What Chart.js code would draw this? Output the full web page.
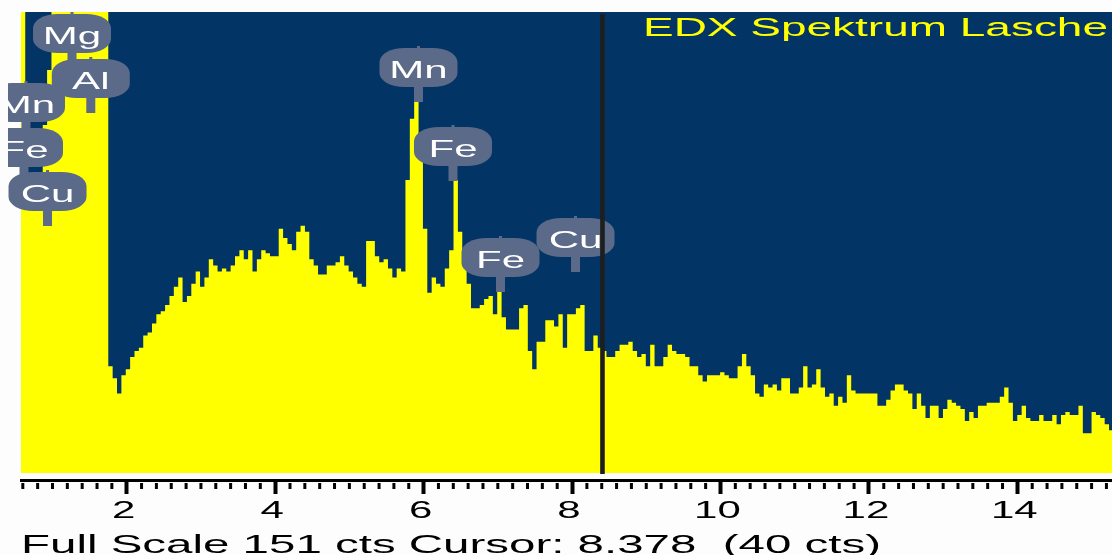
<!DOCTYPE html>
<html>
<head>
<meta charset="utf-8">
<title>EDX Spektrum Lasche</title>
<script src="https://cdn.jsdelivr.net/npm/chart.js@4.4.1/dist/chart.umd.min.js"></script>
<style>
    html, body { margin: 0; padding: 0; background: #fdfdfd; }
    #spectrum { display: block; }
</style>
</head>
<body>
<canvas id="spectrum" width="1112" height="555"></canvas>
<script>
// Spectrum channels: first channel left edge and channel width, in keV
const channelStart = 0.5151;
const channelWidth = 0.05888;

// Counts per channel (values above 151 run off the top of the screen)
const counts = [
    160, 170, 94, 92, 96, 98, 114, 132, 165, 190,
    260, 420, 520, 330, 240, 380, 700, 560, 290, 200,
    160, 35, 31, 26, 32, 34, 38, 40, 41, 45,
    46, 49, 52, 53, 55, 58, 61, 64, 56, 58,
    62, 66, 61, 64, 70, 68, 66, 67, 66, 68,
    71, 73, 70, 73, 66, 70, 73, 72, 71, 71,
    80, 77, 75, 73, 79, 81, 79, 70, 68, 65,
    65, 68, 68, 69, 71, 68, 66, 64, 62, 61,
    76, 76, 71, 69, 70, 67, 64, 67, 66, 96,
    116, 122, 104, 80, 59, 64, 62, 61, 67, 73,
    96, 79, 68, 62, 54, 54, 55, 57, 58, 52,
    60, 51, 47, 47, 47, 54, 55, 40, 34, 43,
    43, 50, 50, 48, 52, 41, 52, 52, 54, 55,
    40, 40, 45, 41, 40, 38, 38, 40, 42, 42,
    43, 40, 38, 39, 35, 42, 35, 35, 38, 42,
    40, 39, 39, 38, 35, 35, 32, 30, 32, 32,
    32, 33, 32, 31, 31, 35, 39, 35, 32, 26,
    25, 29, 28, 29, 27, 31, 31, 26, 26, 28,
    35, 28, 29, 34, 28, 25, 26, 22, 25, 23,
    32, 27, 26, 26, 26, 26, 26, 22, 22, 24,
    27, 29, 29, 27, 26, 21, 26, 22, 18, 22,
    22, 18, 21, 24, 23, 22, 21, 17, 20, 18,
    22, 22, 23, 23, 23, 25, 28, 23, 17, 19,
    22, 18, 17, 17, 19, 17, 17, 19, 16, 19,
    20, 19, 19, 22, 13, 13, 20, 19, 18, 16,
    14
];

// Axis range (keV) and full scale (cts)
const energyMin = 0.5757;
const energyMax = 15.275;
const fullScale = 151;

// Cursor
const cursorEnergy = 8.41;
const cursorText = 'Full Scale 151 cts Cursor: 8.378  (40 cts)';
const titleText = 'EDX Spektrum Lasche';

// Element markers
const peakNames = ['Mg', 'Al', 'Mn', 'Fe', 'Cu', 'Mn', 'Fe', 'Fe', 'Cu'];
const peakEnergies = [1.263, 1.516, 0.643, 0.616, 0.933, 5.931, 6.396, 7.036, 8.047];

// Marker layout (pixel top of each bubble, same order as above)
const bubbleTops = [14, 59, 83, 128, 172, 48, 127, 238, 218];

// Colours
const screenBlue = '#023465';
const spectrumYellow = '#ffff00';
const bubbleGrey = '#5b6a88';

// channel left edges + one closing edge for the last step
const points = counts.map((c, i) => ({ x: channelStart + i * channelWidth, y: c }));
points.push({ x: channelStart + counts.length * channelWidth, y: counts[counts.length - 1] });

const FONT = '"Liberation Sans", Arial, sans-serif';

// draws text stretched horizontally like the old bitmap font
function wideText(ctx, txt, x, y, size, sx, align, color) {
    ctx.save();
    ctx.font = size + 'px ' + FONT;
    ctx.fillStyle = color;
    ctx.textAlign = 'left';
    ctx.textBaseline = 'alphabetic';
    const w = ctx.measureText(txt).width * sx;
    let left = x;
    if (align === 'center') left = x - w / 2;
    else if (align === 'right') left = x - w;
    ctx.translate(left, y);
    ctx.scale(sx, 1);
    ctx.fillText(txt, 0, 0);
    ctx.restore();
}

function fitText(ctx, txt, left, y, size, width, color) {
    ctx.save();
    ctx.font = size + 'px ' + FONT;
    const sx = width / ctx.measureText(txt).width;
    ctx.restore();
    wideText(ctx, txt, left, y, size, sx, 'left', color);
}

function bubblePath(ctx, cx, top, w, h) {
    const rx = 25, ry = 14;
    const l = cx - w / 2, r = cx + w / 2, b = top + h;
    ctx.beginPath();
    ctx.moveTo(l + rx, top);
    ctx.lineTo(r - rx, top);
    ctx.ellipse(r - rx, top + ry, rx, ry, 0, -Math.PI / 2, 0);
    ctx.lineTo(r, b - ry);
    ctx.ellipse(r - rx, b - ry, rx, ry, 0, 0, Math.PI / 2);
    ctx.lineTo(l + rx, b);
    ctx.ellipse(l + rx, b - ry, rx, ry, 0, Math.PI / 2, Math.PI);
    ctx.lineTo(l, top + ry);
    ctx.ellipse(l + rx, top + ry, rx, ry, 0, Math.PI, Math.PI * 1.5);
    ctx.closePath();
}

const screenPlugin = {
    id: 'edxScreen',
    beforeDatasetsDraw(chart) {
        const { ctx, chartArea } = chart;
        const y0 = chart.scales.y.getPixelForValue(0);
        ctx.save();
        ctx.fillStyle = screenBlue;
        ctx.fillRect(chartArea.left, chartArea.top, chartArea.right - chartArea.left, y0 - chartArea.top);
        ctx.restore();
    },
    afterDatasetsDraw(chart) {
        const { ctx } = chart;
        const xs = chart.scales.x;
        const w = 78, h = 39;

        // element bubbles
        ctx.save();
        ctx.beginPath();
        ctx.rect(8, 0, chart.width, chart.height);
        ctx.clip();
        peakNames.forEach((name, i) => {
            const cx = xs.getPixelForValue(peakEnergies[i]);
            const top = bubbleTops[i];
            ctx.fillStyle = bubbleGrey;
            ctx.fillRect(cx - 1.5, top - 2, 3, 3);
            ctx.fillRect(cx - 4.5, top + h - 2, 9, 17);
            bubblePath(ctx, cx, top, w, h);
            ctx.fill();
            wideText(ctx, name, cx, top + 29.5, 24, 1.75, 'center', '#ffffff');
        });
        ctx.restore();

        // cursor line
        const cxp = xs.getPixelForValue(cursorEnergy);
        ctx.save();
        ctx.fillStyle = '#1e1e1e';
        ctx.fillRect(cxp - 2.3, 14, 4.6, 460);
        ctx.restore();
    },
    afterDraw(chart) {
        const { ctx, chartArea } = chart;
        const xs = chart.scales.x;

        // minor ticks every 0.2 keV
        ctx.save();
        ctx.fillStyle = '#000';
        for (let t = 0.6; t <= energyMax + 1e-6; t += 0.2) {
            const v = Math.round(t * 10) / 10;
            if (Math.abs(v / 2 - Math.round(v / 2)) < 1e-6) continue;
            const px = xs.getPixelForValue(v);
            ctx.fillRect(px - 1.5, chartArea.bottom + 3, 3, 6);
        }
        ctx.restore();

        // tick labels from the library's ticks
        xs.ticks.forEach(t => {
            const px = xs.getPixelForValue(t.value);
            wideText(ctx, String(t.value), px - 3, 518, 24, 1.75, 'center', '#000');
        });

        fitText(ctx, titleText, 643, 36, 25, 465, spectrumYellow);
        fitText(ctx, cursorText, 21, 553, 25, 860, '#000');
    }
};

new Chart(document.getElementById('spectrum'), {
    type: 'line',
    data: {
        datasets: [{
            data: points,
            stepped: 'before',
            fill: 'origin',
            backgroundColor: spectrumYellow,
            borderColor: 'rgba(0,0,0,0)',
            borderWidth: 0,
            pointRadius: 0,
            tension: 0
        }]
    },
    options: {
        responsive: false,
        animation: false,
        devicePixelRatio: 1,
        parsing: false,
        layout: { padding: { top: 12, left: 21, right: 0, bottom: 0 } },
        plugins: { legend: { display: false }, tooltip: { enabled: false } },
        scales: {
            x: {
                type: 'linear',
                min: energyMin,
                max: energyMax,
                ticks: { stepSize: 2, includeBounds: false, display: false },
                grid: { drawOnChartArea: false, drawTicks: true, tickLength: 14, tickWidth: 4, tickColor: '#000' },
                border: { display: true, color: '#000', width: 3 },
                afterFit(scale) { scale.height = 75; }
            },
            y: {
                display: false,
                min: -2.293,
                max: fullScale
            }
        }
    },
    plugins: [screenPlugin]
});
</script>
</body>
</html>
